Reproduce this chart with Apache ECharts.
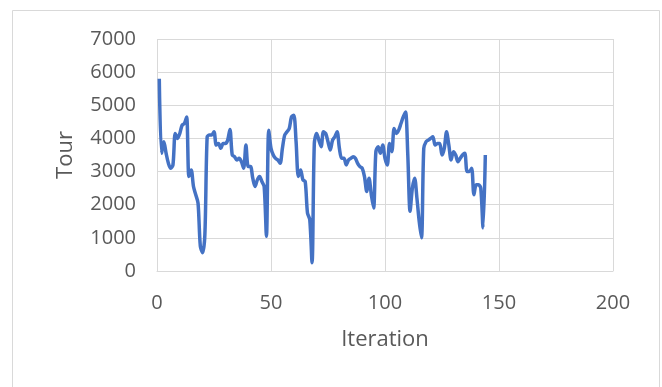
<!DOCTYPE html>
<html>
<head>
<meta charset="utf-8">
<script src="https://cdn.jsdelivr.net/npm/echarts@6/dist/echarts.min.js"></script>
<style>
html,body{margin:0;padding:0;background:#fff;}
#chart{width:662px;height:387px;}
</style>
</head>
<body>
<div id="chart"></div>
<script>
var iterations = [];
for (var i = 1; i <= 144; i++) iterations.push(i);
var tourValues = [
5800,3550,3900,3550,3250,3100,3200,4150,4000,4150,
4400,4450,4650,2850,3050,2550,2300,2050,750,550,
1100,4050,4100,4100,4200,3800,3850,3700,3850,3850,
3950,4270,3500,3450,3350,3400,3300,3100,3800,3150,
3150,2800,2550,2750,2850,2700,2550,1050,4250,3700,
3500,3400,3350,3250,3700,4100,4200,4300,4650,4700,
3900,2850,3050,2750,2700,1750,1550,250,3850,4150,
3950,3750,4200,4150,3900,3650,3950,4050,4200,3700,
3400,3400,3200,3350,3400,3450,3400,3250,3150,3100,
2850,2400,2800,2300,1900,3600,3750,3550,3800,3400,
3200,3850,3600,4300,4150,4250,4450,4650,4800,3500,
1800,2500,2800,2200,1500,1000,3700,3900,3950,4000,
4050,3800,3850,3850,3500,3700,4200,3800,3350,3600,
3500,3300,3400,3500,3550,3000,3000,3100,2300,2600,
2600,2500,1300,3500
];
var xTicks = [0, 50, 100, 150, 200];
var yTicks = [0, 1000, 2000, 3000, 4000, 5000, 6000, 7000];

var data = iterations.map(function (x, k) { return [x, tourValues[k]]; });
var FONT = 'Open Sans';
var chart = echarts.init(document.getElementById('chart'));
chart.setOption({
  backgroundColor: '#ffffff',
  animation: false,
  graphic: [{
    type: 'rect',
    shape: { x: 12.5, y: 10.5, width: 647, height: 420 },
    style: { fill: 'none', stroke: '#d9d9d9', lineWidth: 1 },
    z: -1
  }],
  grid: { left: 157, right: 49, top: 39, bottom: 116 },
  xAxis: {
    type: 'value',
    min: xTicks[0], max: xTicks[xTicks.length - 1], interval: 50,
    name: 'Iteration', nameLocation: 'middle', nameGap: 58,
    nameTextStyle: { fontFamily: FONT, fontSize: 22, color: '#595959' },
    axisLine: { show: true, lineStyle: { color: '#d9d9d9', width: 1 } },
    axisTick: { show: false },
    axisLabel: { fontFamily: FONT, fontSize: 20, color: '#595959', margin: 22,
      formatter: function (v) { return String(v); } },
    splitLine: { show: true, lineStyle: { color: '#d9d9d9', width: 1 } }
  },
  yAxis: {
    type: 'value',
    min: yTicks[0], max: yTicks[yTicks.length - 1], interval: 1000,
    name: 'Tour', nameLocation: 'middle', nameGap: 80, nameRotate: 90,
    nameTextStyle: { fontFamily: FONT, fontSize: 22, color: '#595959' },
    axisLine: { show: false },
    axisTick: { show: false },
    axisLabel: { fontFamily: FONT, fontSize: 20, color: '#595959', margin: 21,
      formatter: function (v) { return String(v); } },
    splitLine: { show: true, lineStyle: { color: '#d9d9d9', width: 1 } }
  },
  series: [{
    type: 'line',
    data: data,
    showSymbol: false,
    smooth: 0.3,
    lineStyle: { color: '#4472c4', width: 3.5 },
    itemStyle: { color: '#4472c4' }
  }]
});
</script>
</body>
</html>
